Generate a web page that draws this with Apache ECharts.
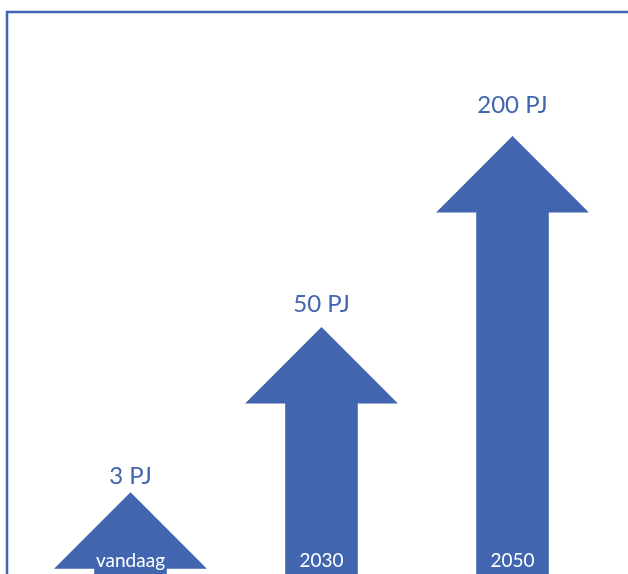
<!DOCTYPE html>
<html>
<head>
<meta charset="utf-8">
<script src="https://cdn.jsdelivr.net/npm/echarts@6/dist/echarts.min.js"></script>
<style>
  html, body { margin: 0; padding: 0; background: #fff; }
  #chart { width: 628px; height: 574px; }
</style>
</head>
<body>
<div id="chart"></div>
<script>
const categories = ['vandaag', '2030', '2050']
const values = [3, 50, 200]
const unit = 'PJ'
// arrow length on the (hidden) 0-100 axis, as drawn in the picture
const arrowLevel = [14.6, 44.1, 78.2]

const blue = '#4165AF'
const chart = echarts.init(document.getElementById('chart'))

function renderArrow (params, api) {
  const i = api.value(0)
  const tip = api.coord([i, api.value(1)])
  const base = api.coord([i, 0])
  const band = api.size([1, 0])[0]
  const headHalf = band * 0.4
  const shaftHalf = band * 0.19
  const headH = headHalf
  const cx = tip[0]
  const neck = tip[1] + headH
  const points = [
    [cx, tip[1]],
    [cx + headHalf, neck],
    [cx + shaftHalf, neck],
    [cx + shaftHalf, base[1]],
    [cx - shaftHalf, base[1]],
    [cx - shaftHalf, neck],
    [cx - headHalf, neck]
  ]
  const gap = 1 + 0.04 * (base[1] - tip[1])
  return {
    type: 'group',
    children: [
      { type: 'polygon', shape: { points }, style: { fill: blue } },
      {
        type: 'text',
        style: {
          x: cx, y: tip[1] - gap,
          text: values[i] + ' ' + unit,
          fill: blue, font: '24px Lato',
          align: 'center', verticalAlign: 'bottom'
        }
      },
      {
        type: 'text',
        style: {
          x: cx, y: base[1] - 4,
          text: categories[i],
          fill: '#fff', font: '19px Lato',
          align: 'center', verticalAlign: 'bottom'
        }
      }
    ]
  }
}

chart.setOption({
  animation: false,
  grid: { left: 35, right: 20, top: 14, bottom: 0 },
  xAxis: { type: 'category', data: categories, show: false },
  yAxis: { type: 'value', min: 0, max: 100, show: false },
  graphic: [
    {
      type: 'rect',
      shape: { x: 7, y: 12, width: 800, height: 800 },
      style: { fill: 'none', stroke: blue, lineWidth: 2.5 }
    }
  ],
  series: [{
    type: 'custom',
    renderItem: renderArrow,
    data: arrowLevel.map((v, i) => [i, v])
  }]
})
</script>
</body>
</html>
